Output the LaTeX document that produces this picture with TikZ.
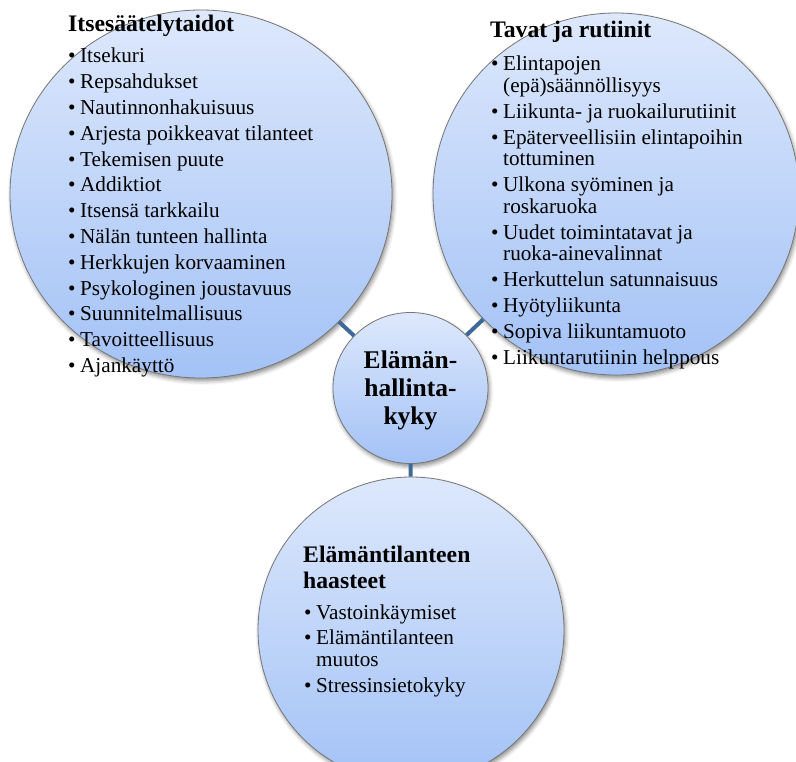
\documentclass[tikz,border=0pt]{standalone}
\usepackage{fontspec}
\setmainfont{Liberation Serif}
\usetikzlibrary{shapes.geometric,shadows.blur}
\definecolor{ringtop}{RGB}{221,232,252}
\definecolor{ringbot}{RGB}{163,194,246}
\definecolor{ringline}{RGB}{118,118,118}
\definecolor{spokeblue}{RGB}{62,104,152}
\tikzset{
  ring/.style={ellipse,inner sep=0pt,draw=ringline,line width=0.8pt,
    top color=ringtop,bottom color=ringbot,
    blur shadow={shadow xshift=1.5pt,shadow yshift=-3pt,shadow blur radius=4pt,shadow opacity=45}},
  spoke/.style={draw=spokeblue,line width=4pt},
  txt/.style={inner sep=0pt,anchor=base west}
}
\newcommand{\ringhead}[1]{\parbox[t]{260pt}{\bfseries\fontsize{23.7}{26}\selectfont #1}}
\newcommand{\ringitem}[1]{\par\hangindent=12pt\hangafter=1\noindent\makebox[12pt][l]{\textbullet}#1}
\newcommand{\ringlist}[1]{\parbox[t]{300pt}{\fontsize{21.2}{21.7}\selectfont\setlength{\parskip}{4.1pt}\raggedright #1}}

\begin{document}
\begin{tikzpicture}[x=1pt,y=-1pt]
\useasboundingbox (0,0) rectangle (796,762);
\clip (0,0) rectangle (796,762);

% Centres of the rings
\coordinate (cself) at (201,194);
\coordinate (chabits) at (616,194);
\coordinate (chub) at (410.5,388);
\coordinate (clife) at (411,630);

% Rings
\node[ring,minimum width=382pt,minimum height=368pt] (self) at (cself) {};
\node[ring,minimum width=366pt,minimum height=362pt] (habits) at (chabits) {};
\node[ring,minimum width=306pt,minimum height=306pt] (life) at (clife) {};
\node[ring,minimum width=155pt,minimum height=151pt] (hub) at (chub) {};

% Spokes
\draw[spoke] (hub) -- (self);
\draw[spoke] (hub) -- (habits);
\draw[spoke] (hub) -- (life);

% Hub text
\node[inner sep=0pt,anchor=base] (hubtext) at (410.5,368)
  {\parbox[t]{150pt}{\centering\bfseries\fontsize{25.5}{28.5}\selectfont Elämän-\\hallinta-\\kyky}};

% Left ring
\node[txt] (selfhead) at (68,32) {\ringhead{Itsesäätelytaidot}};
\node[txt] (selflist) at (68,63) {\ringlist{%
  \ringitem{Itsekuri}
  \ringitem{Repsahdukset}
  \ringitem{Nautinnonhakuisuus}
  \ringitem{Arjesta poikkeavat tilanteet}
  \ringitem{Tekemisen puute}
  \ringitem{Addiktiot}
  \ringitem{Itsensä tarkkailu}
  \ringitem{Nälän tunteen hallinta}
  \ringitem{Herkkujen korvaaminen}
  \ringitem{Psykologinen joustavuus}
  \ringitem{Suunnitelmallisuus}
  \ringitem{Tavoitteellisuus}
  \ringitem{Ajankäyttö}}};

% Right ring
\node[txt] (habitshead) at (490,38) {\ringhead{Tavat ja rutiinit}};
\node[txt] (habitslist) at (491,71) {\ringlist{%
  \ringitem{Elintapojen\newline (epä)säännöllisyys}
  \ringitem{Liikunta- ja ruokailurutiinit}
  \ringitem{Epäterveellisiin elintapoihin\newline tottuminen}
  \ringitem{Ulkona syöminen ja\newline roskaruoka}
  \ringitem{Uudet toimintatavat ja\newline ruoka-ainevalinnat}
  \ringitem{Herkuttelun satunnaisuus}
  \ringitem{Hyötyliikunta}
  \ringitem{Sopiva liikuntamuoto}
  \ringitem{Liikuntarutiinin helppous}}};

% Bottom ring
\node[txt] (lifehead) at (303,562) {\ringhead{Elämäntilanteen\\haasteet}};
\node[txt] (lifelist) at (304,619) {\ringlist{%
  \ringitem{Vastoinkäymiset}
  \ringitem{Elämäntilanteen\newline muutos}
  \ringitem{Stressinsietokyky}}};
\end{tikzpicture}
\end{document}
